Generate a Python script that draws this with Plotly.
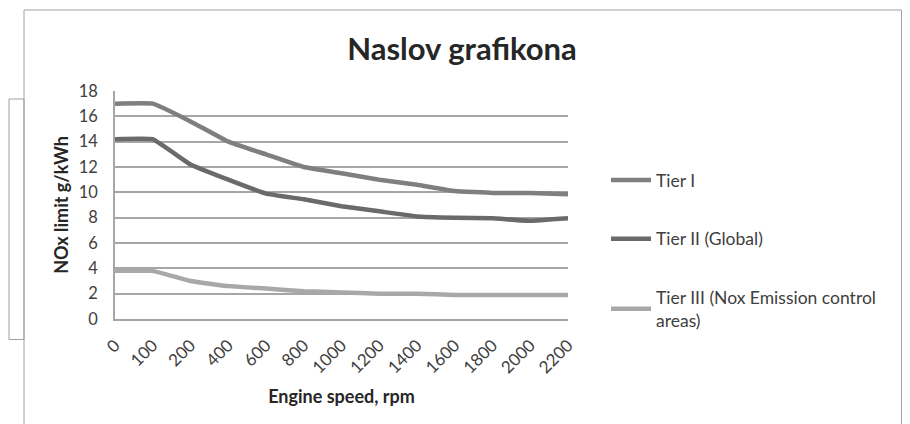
import plotly.graph_objects as go

# ---- data ----
engine_speed = ["0", "100", "200", "400", "600", "800", "1000", "1200", "1400", "1600", "1800", "2000", "2200"]
tier1 = [17.0, 17.0, 15.6, 14.0, 13.0, 12.0, 11.5, 11.0, 10.6, 10.1, 9.95, 9.95, 9.85]
tier2 = [14.2, 14.2, 12.2, 11.0, 9.9, 9.45, 8.9, 8.5, 8.1, 8.0, 7.95, 7.75, 7.95]
tier3 = [3.8, 3.8, 3.0, 2.6, 2.4, 2.2, 2.1, 2.0, 2.0, 1.9, 1.9, 1.9, 1.9]
series_names = ["Tier I", "Tier II (Global)", "Tier III (Nox Emission control<br>areas)"]
y_ticks = [0, 2, 4, 6, 8, 10, 12, 14, 16, 18]

W, H = 910, 424
OFF = 8  # page body margin
# target plot area in page pixels
PL, PR, PT, PB = 115, 568, 91, 319
L = PL - OFF
T = PT - OFF
R = W - (PR - OFF)
B = H - (PB - OFF)

FONT = "Lato, Carlito, 'Open Sans', sans-serif"

def px_x(px):
    return (px - OFF - L) / (W - L - R)

def px_y(py):
    return (H - B - (py - OFF)) / (H - T - B)

fig = go.Figure()
colors = ["#7f7f7f", "#6a6a6a", "#a8a8a8"]
for i, (name, vals) in enumerate(zip(series_names, [tier1, tier2, tier3])):
    fig.add_trace(go.Scatter(
        x=engine_speed, y=vals, name=name, mode="lines",
        line=dict(color=colors[i], width=4.5, shape="spline", smoothing=0.25),
        legendgroup=f"g{i}",
    ))

frame = dict(color="#a0a0a0", width=1)
shapes = [
    dict(type="line", xref="paper", yref="paper", x0=px_x(24), x1=px_x(24), y0=px_y(10), y1=px_y(440), line=frame),
    dict(type="line", xref="paper", yref="paper", x0=px_x(24), x1=px_x(901.5), y0=px_y(10), y1=px_y(10), line=frame),
    dict(type="line", xref="paper", yref="paper", x0=px_x(901.5), x1=px_x(901.5), y0=px_y(10), y1=px_y(440), line=frame),
    dict(type="rect", xref="paper", yref="paper", x0=px_x(9), x1=px_x(24), y0=px_y(99), y1=px_y(339.5), line=frame),
    dict(type="line", xref="paper", yref="paper", x0=px_x(901.5), x1=px_x(920), y0=px_y(99), y1=px_y(99), line=frame),
    dict(type="line", xref="paper", yref="paper", x0=px_x(901.5), x1=px_x(920), y0=px_y(340), y1=px_y(340), line=frame),
]

fig.update_layout(
    width=W, height=H,
    margin=dict(l=L, r=R, t=T, b=B, autoexpand=False),
    paper_bgcolor="white", plot_bgcolor="white",
    font=dict(family=FONT, color="#404040", size=15),
    title=dict(text="<b>Naslov grafikona</b>", xref="container", yref="container",
               x=(462 - OFF) / W, xanchor="center",
               y=1 - (49 - OFF) / H, yanchor="middle",
               font=dict(family=FONT, size=31, color="#262626")),
    showlegend=True,
    legend=dict(x=px_x(606), xanchor="left", y=px_y(162), yanchor="top",
                tracegroupgap=33, font=dict(size=17.5, color="#404040"),
                bgcolor="rgba(0,0,0,0)", itemwidth=40),
    shapes=shapes,
)

fig.update_xaxes(
    type="category", range=[0, len(engine_speed) - 1],
    showgrid=False, showline=True, linecolor="#a6a6a6", linewidth=1.5,
    tickangle=-45, tickfont=dict(size=17, color="#404040"), ticks="", ticklabelstandoff=8,
    title=dict(text="<b>Engine speed, rpm</b>", font=dict(size=18, color="#262626"), standoff=14),
)
fig.update_yaxes(
    range=[0, 18], tickvals=y_ticks, showgrid=True, gridcolor="#a6a6a6", gridwidth=1.5,
    showline=True, linecolor="#a6a6a6", linewidth=1.5, zeroline=False,
    tickfont=dict(size=16.5, color="#404040"), ticks="", ticklabelstandoff=12,
    title=dict(text="<b>NOx limit g/kWh</b>", font=dict(size=18, color="#262626"), standoff=6),
)

fig.write_html("out.html")
